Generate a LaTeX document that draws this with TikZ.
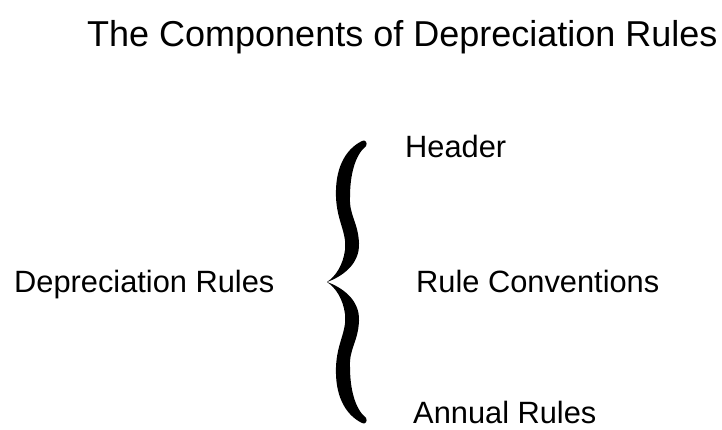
\documentclass[tikz,border=0pt]{standalone}
\usepackage{fontspec}
\setmainfont{Liberation Sans}
\begin{document}
\begin{tikzpicture}[x=1pt,y=-1pt,
  lbl/.style={anchor=base west,inner sep=0pt,font=\fontsize{30.8}{34}\selectfont},
  ttl/.style={anchor=base west,inner sep=0pt,font=\fontsize{36}{40}\selectfont}]
\useasboundingbox[fill=white] (0,0) rectangle (722,430);
\node[ttl] (title) at (87,47) {The Components of Depreciation Rules};
\node[lbl] (root) at (14,292) {Depreciation Rules};
\node[lbl] (header) at (405,158) {Header};
\node[lbl] (conv) at (416,292) {Rule Conventions};
\node[lbl] (annual) at (413,423) {Annual Rules};
% brace
\fill[black] (327,282) .. controls (336,276) and (343,265) .. (345,250)
  .. controls (347,232) and (337,222) .. (336,197)
  .. controls (335,170) and (344,150) .. (362,141)
  .. controls (365,139) and (368,143) .. (366,146)
  .. controls (355,155) and (350,175) .. (350,197)
  .. controls (349,215) and (358,222) .. (359,243)
  .. controls (360,265) and (341,277) .. (327,282) -- cycle;
\fill[black] (327,282) .. controls (336,288) and (343,299) .. (345,314)
  .. controls (347,332) and (337,342) .. (336,367)
  .. controls (335,394) and (344,414) .. (362,423)
  .. controls (365,425) and (368,421) .. (366,418)
  .. controls (355,409) and (350,389) .. (350,367)
  .. controls (349,349) and (358,342) .. (359,321)
  .. controls (360,299) and (341,287) .. (327,282) -- cycle;
\end{tikzpicture}
\end{document}
